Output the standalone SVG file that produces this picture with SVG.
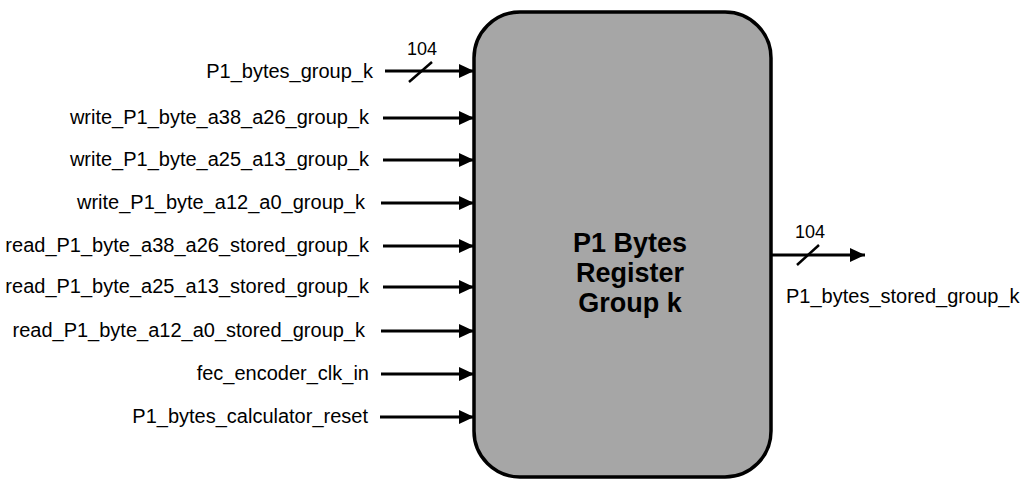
<svg xmlns="http://www.w3.org/2000/svg" width="1027" height="479" viewBox="0 0 1027 479">
<style>
.lbl{font-family:"Liberation Sans",Arial,sans-serif;font-size:20px;fill:#000}
.num{font-family:"Liberation Sans",Arial,sans-serif;font-size:18px;fill:#000;text-anchor:middle}
.title{font-family:"Liberation Sans",Arial,sans-serif;font-size:27px;font-weight:bold;fill:#000;text-anchor:middle}
.w{stroke:#000;stroke-width:3;fill:none}
.s{stroke:#000;stroke-width:2.5;fill:none}
</style>
<defs>
<marker id="ah" markerWidth="15" markerHeight="14" refX="15" refY="7" orient="auto" markerUnits="userSpaceOnUse">
<path d="M0,0 L15,7 L0,14 Z" fill="#000"/>
</marker>
</defs>
<rect width="1027" height="479" fill="#fff"/>
<g id="block">
<rect x="474" y="12" width="297" height="465" rx="46" ry="46" fill="#a6a6a6" stroke="#000" stroke-width="3.5"/>
<text class="title" x="630" y="252">P1 Bytes</text>
<text class="title" x="630" y="282">Register</text>
<text class="title" x="630" y="312">Group k</text>
</g>
<g id="inputs" class="lbl" text-anchor="end">
<text x="373" y="78">P1_bytes_group_k</text>
<text x="369" y="124">write_P1_byte_a38_a26_group_k</text>
<text x="369" y="166">write_P1_byte_a25_a13_group_k</text>
<text x="365" y="209">write_P1_byte_a12_a0_group_k</text>
<text x="369" y="252">read_P1_byte_a38_a26_stored_group_k</text>
<text x="369" y="293">read_P1_byte_a25_a13_stored_group_k</text>
<text x="365" y="337">read_P1_byte_a12_a0_stored_group_k</text>
<text x="369" y="380">fec_encoder_clk_in</text>
<text x="368" y="423">P1_bytes_calculator_reset</text>
</g>
<g id="output-label">
<text class="lbl" x="786" y="303">P1_bytes_stored_group_k</text>
</g>
<g id="connectors">
<line class="w" x1="385" y1="71" x2="474" y2="71" marker-end="url(#ah)"/>
<line class="s" x1="409" y1="82" x2="432" y2="62"/>
<text class="num" x="422" y="55">104</text>
<line class="w" x1="383" y1="118" x2="474" y2="118" marker-end="url(#ah)"/>
<line class="w" x1="383" y1="160" x2="474" y2="160" marker-end="url(#ah)"/>
<line class="w" x1="381" y1="203" x2="474" y2="203" marker-end="url(#ah)"/>
<line class="w" x1="383" y1="246" x2="474" y2="246" marker-end="url(#ah)"/>
<line class="w" x1="383" y1="287" x2="474" y2="287" marker-end="url(#ah)"/>
<line class="w" x1="381" y1="331" x2="474" y2="331" marker-end="url(#ah)"/>
<line class="w" x1="381" y1="374" x2="474" y2="374" marker-end="url(#ah)"/>
<line class="w" x1="380" y1="417" x2="474" y2="417" marker-end="url(#ah)"/>
<line class="w" x1="771" y1="255" x2="865" y2="255" marker-end="url(#ah)"/>
<line class="s" x1="797" y1="265" x2="819" y2="245"/>
<text class="num" x="810" y="238">104</text>
</g>
</svg>
